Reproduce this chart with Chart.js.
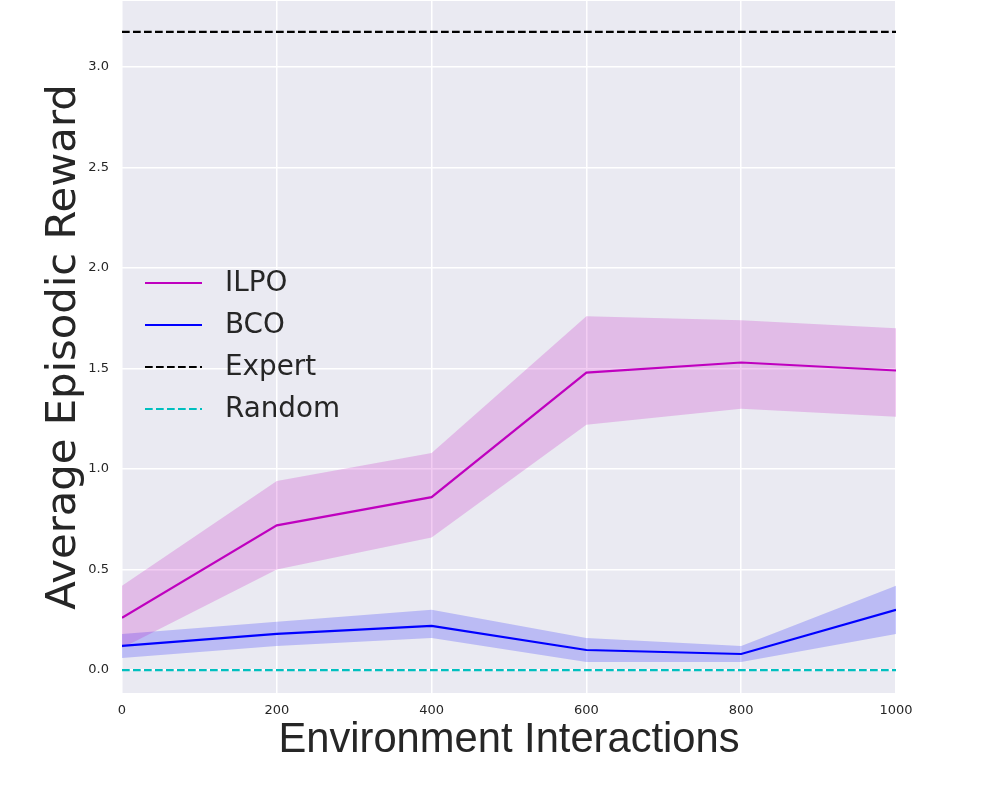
<!DOCTYPE html>
<html>
<head>
<meta charset="utf-8">
<script src="https://cdn.jsdelivr.net/npm/chart.js@4"></script>
<style>
  body { margin: 0; background: #ffffff; }
</style>
</head>
<body>
<canvas id="mainChart" width="996" height="793"></canvas>
<script>
"use strict";

const steps = [0, 200, 400, 600, 800, 1000];

const ilpoMean  = [0.26, 0.72, 0.86, 1.48, 1.53, 1.49];
const ilpoUpper = [0.42, 0.94, 1.08, 1.76, 1.74, 1.70];
const ilpoLower = [0.11, 0.50, 0.66, 1.22, 1.30, 1.26];

const bcoMean  = [0.12, 0.18, 0.22, 0.10, 0.08, 0.30];
const bcoUpper = [0.18, 0.24, 0.30, 0.16, 0.12, 0.42];
const bcoLower = [0.06, 0.12, 0.16, 0.04, 0.04, 0.18];

const expertReward = 3.174;
const randomReward = 0.0;

const legendNames = ["ILPO", "BCO", "Expert", "Random"];

const textColor = "#262626";
const dash = [7.7, 3.3];

function pts(values) {
    return steps.map(function (s, i) { return {x: s, y: values[i]}; });
}

function flat(v) {
    return [{x: steps[0], y: v}, {x: steps[steps.length - 1], y: v}];
}

// no label overhang, the plot box is fixed by hand
function noPadding(scale) {
    scale.paddingTop = 0;
    scale.paddingBottom = 0;
    scale.paddingLeft = 0;
    scale.paddingRight = 0;
}

// grey plot background like seaborn darkgrid
var plotBackground = {
    id: "plotBackground",
    beforeDraw: function (chart) {
        var a = chart.chartArea;
        var ctx = chart.ctx;
        ctx.save();
        ctx.fillStyle = "#eaeaf2";
        ctx.fillRect(a.left, a.top, a.right - a.left, a.bottom - a.top);
        ctx.restore();
    }
};

// legend drawn inside the plot, no frame
var innerLegend = {
    id: "innerLegend",
    afterDraw: function (chart) {
        var a = chart.chartArea;
        var ctx = chart.ctx;
        var items = chart.data.datasets.filter(function (d) { return d.legendName; });
        ctx.save();
        ctx.font = "27.8px 'DejaVu Sans'";
        ctx.textBaseline = "middle";
        ctx.textAlign = "left";
        items.forEach(function (d, i) {
            var y = a.top + 282 + i * 42;
            ctx.strokeStyle = d.borderColor;
            ctx.lineWidth = d.borderWidth;
            ctx.setLineDash(d.borderDash || []);
            ctx.beginPath();
            ctx.moveTo(a.left + 23, y);
            ctx.lineTo(a.left + 80, y);
            ctx.stroke();
            ctx.setLineDash([]);
            ctx.fillStyle = textColor;
            ctx.fillText(d.legendName, a.left + 103, y + 1);
        });
        ctx.restore();
    }
};

var band = function (upper, lower, color) {
    return [{
        data: pts(upper),
        borderWidth: 0,
        pointRadius: 0,
        fill: "+1",
        backgroundColor: color
    }, {
        data: pts(lower),
        borderWidth: 0,
        pointRadius: 0,
        fill: false
    }];
};

var datasets = []
    .concat(band(ilpoUpper, ilpoLower, "rgba(191, 0, 191, 0.2)"))
    .concat(band(bcoUpper, bcoLower, "rgba(0, 0, 255, 0.2)"))
    .concat([{
        legendName: legendNames[0],
        data: pts(ilpoMean),
        borderColor: "#bf00bf",
        borderWidth: 2.2,
        pointRadius: 0,
        fill: false
    }, {
        legendName: legendNames[1],
        data: pts(bcoMean),
        borderColor: "#0000ff",
        borderWidth: 2.2,
        pointRadius: 0,
        fill: false
    }, {
        legendName: legendNames[2],
        data: flat(expertReward),
        borderColor: "#000000",
        borderWidth: 2.2,
        borderDash: dash,
        pointRadius: 0,
        fill: false
    }, {
        legendName: legendNames[3],
        data: flat(randomReward),
        borderColor: "#00bfbf",
        borderWidth: 2.2,
        borderDash: dash,
        pointRadius: 0,
        fill: false
    }]);

var chart = new Chart(document.getElementById("mainChart"), {
    type: "line",
    data: { datasets: datasets },
    options: {
        responsive: false,
        animation: false,
        devicePixelRatio: 1,
        layout: { padding: { top: 1, right: 100, left: 0, bottom: 0 } },
        plugins: {
            legend: { display: false },
            tooltip: { enabled: false },
            filler: { drawTime: "beforeDatasetsDraw" }
        },
        scales: {
            x: {
                type: "linear",
                min: 0,
                max: 1000,
                afterFit: function (scale) { scale.height = 100; noPadding(scale); },
                border: { display: false },
                grid: { color: "#ffffff", lineWidth: 1.5, drawTicks: false },
                ticks: {
                    stepSize: 200,
                    padding: 10,
                    color: textColor,
                    font: { family: "DejaVu Sans", size: 13 },
                    maxRotation: 0,
                    callback: function (v) { return String(v); }
                },
                title: {
                    display: true,
                    text: "Environment Interactions",
                    color: textColor,
                    font: { family: "Liberation Sans", size: 41.7, lineHeight: 1 },
                    padding: { top: 0, bottom: 32 }
                }
            },
            y: {
                min: -0.114,
                max: 3.328,
                afterFit: function (scale) { scale.width = 122; noPadding(scale); },
                border: { display: false },
                grid: { color: "#ffffff", lineWidth: 1.5, drawTicks: false },
                ticks: {
                    stepSize: 0.5,
                    includeBounds: false,
                    padding: 13,
                    color: textColor,
                    font: { family: "DejaVu Sans", size: 13 },
                    callback: function (v) { return v.toFixed(1); }
                },
                title: {
                    display: true,
                    text: "Average Episodic Reward",
                    color: textColor,
                    font: { family: "DejaVu Sans", size: 41.7, lineHeight: 1 },
                    padding: { top: 43, bottom: 0 }
                }
            }
        }
    },
    plugins: [plotBackground, innerLegend]
});
</script>
</body>
</html>
